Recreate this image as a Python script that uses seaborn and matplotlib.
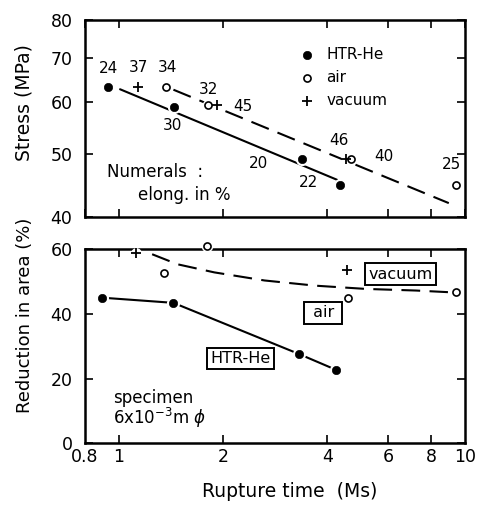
import numpy as np
import pandas as pd
import matplotlib
matplotlib.use("Agg")
import matplotlib.pyplot as plt
import seaborn as sns

# ---- data ----
# upper panel: stress vs rupture time (numbers = elongation %)
time_htr_s = [0.935, 1.446, 3.38, 4.35]
stress_htr = [63.3, 59.0, 49.0, 44.7]
elong_htr = [24, 30, 20, 22]

time_air_s = [1.37, 1.81, 4.70, 9.45]
stress_air = [63.2, 59.3, 49.0, 44.8]
elong_air = [34, 32, 40, 25]

time_vac_s = [1.14, 1.93, 4.52]
stress_vac = [63.2, 59.3, 49.0]
elong_vac = [37, 45, 46]

# hand drawn trend lines (upper panel)
trend_htr_time = [1.01, 4.27]
trend_htr_stress = [62.7, 45.6]
trend_air_time = [1.44, 8.98]
trend_air_stress = [62.6, 42.0]

# lower panel: reduction in area vs rupture time
time_htr_r = [0.895, 1.44, 3.32, 4.25]
ra_htr = [45.0, 43.4, 27.6, 22.7]
time_air_r = [1.35, 1.80, 4.60, 9.41]
ra_air = [52.5, 60.9, 45.0, 46.8]
time_vac_r = [1.12, 4.57]
ra_vac = [58.9, 53.5]

# hand drawn curve air/vacuum (lower panel)
curve_time = [1.25, 1.48, 1.89, 2.64, 3.70, 5.17, 7.22, 8.93]
curve_ra = [58.4, 55.3, 52.8, 50.3, 48.7, 47.7, 47.2, 46.7]

x_ticks = [0.8, 1, 2, 4, 6, 8, 10]
x_ticklabels = ["0.8", "1", "2", "4", "6", "8", "10"]
stress_ticks = [40, 50, 60, 70, 80]
ra_ticks = [0, 20, 40, 60]

sns.set_style("ticks")
plt.rcParams['font.family'] = ['DejaVu Sans']
for k in ("text.color", "axes.labelcolor", "xtick.color", "ytick.color"):
    plt.rcParams[k] = "black"

fig = plt.figure(figsize=(4.81, 5.09), dpi=100)
ax1 = fig.add_axes([0.1767, 0.5737, 0.790, 0.387])
ax2 = fig.add_axes([0.1767, 0.1287, 0.790, 0.382])

DASH = (0, (9, 4.5))
LW = 1.5


def halo(ax, x, y, s):
    ax.scatter(x, y, s=s, color="white", zorder=3, linewidths=0, clip_on=False)


def points(ax, series, label=False):
    # white rings so the lines stop short of the markers
    halo(ax, *series["htr"], 90)
    halo(ax, *series["air"], 70)
    halo(ax, *series["vac"], 60)
    sns.scatterplot(x=series["htr"][0], y=series["htr"][1], ax=ax, marker="o", s=36,
                    color="black", edgecolor="black", zorder=4,
                    label="HTR-He" if label else None, clip_on=False)
    sns.scatterplot(x=series["air"][0], y=series["air"][1], ax=ax, marker="o", s=26,
                    facecolor="white", edgecolor="black", linewidth=1.2, zorder=4,
                    label="air" if label else None, clip_on=False)
    sns.scatterplot(x=series["vac"][0], y=series["vac"][1], ax=ax, marker="+", s=44,
                    color="black", linewidth=1.3, zorder=4,
                    label="vacuum" if label else None, clip_on=False)


# ---------- upper panel ----------
sns.lineplot(x=trend_htr_time, y=trend_htr_stress, ax=ax1, color="black",
             lw=LW, estimator=None, sort=False, zorder=2)
sns.lineplot(x=trend_air_time, y=trend_air_stress, ax=ax1, color="black",
             lw=LW, estimator=None, sort=False, linestyle=DASH, zorder=2)
points(ax1, {"htr": (time_htr_s, stress_htr), "air": (time_air_s, stress_air),
             "vac": (time_vac_s, stress_vac)}, label=True)

offsets = {
    "htr": [(0, 18), (-2, -19), (-43, -4), (-31, 3)],
    "air": [(2, 19), (1, 16), (32, 3), (-5, 20)],
    "vac": [(0, 19), (25, -1), (-7, 19)],
}
for key, xs, ys, nums in [("htr", time_htr_s, stress_htr, elong_htr),
                          ("air", time_air_s, stress_air, elong_air),
                          ("vac", time_vac_s, stress_vac, elong_vac)]:
    for x, y, n, off in zip(xs, ys, nums, offsets[key]):
        ax1.annotate(str(n), (x, y), xytext=off, textcoords="offset pixels",
                     ha="center", va="center", fontsize=11)

ax1.set_xscale("log")
ax1.set_yscale("log")
ax1.set_xlim(0.8, 10)
ax1.set_ylim(40, 80)
ax1.set_yticks(stress_ticks)
ax1.set_yticklabels([str(v) for v in stress_ticks])
ax1.set_xticks(x_ticks)
ax1.set_xticklabels([])
ax1.minorticks_off()
ax1.set_ylabel("Stress (MPa)", fontsize=13.5)
ax1.yaxis.set_label_coords(-0.135, 0.58)

ax1.text(0.057, 0.23, "Numerals  :", transform=ax1.transAxes, fontsize=12,
         va="center")
ax1.text(0.139, 0.112, "elong. in %", transform=ax1.transAxes, fontsize=12,
         va="center")

ax1.legend(loc="upper left", bbox_to_anchor=(0.565, 0.865), frameon=False,
           fontsize=11, handlelength=1.0, handletextpad=0.75,
           labelspacing=0.55, borderpad=0, borderaxespad=0)

# ---------- lower panel ----------
sns.lineplot(x=time_htr_r, y=ra_htr, ax=ax2, color="black", lw=LW,
             estimator=None, sort=False, zorder=2)
sns.lineplot(x=curve_time, y=curve_ra, ax=ax2, color="black", lw=LW,
             estimator=None, sort=False, linestyle=DASH, zorder=2)
points(ax2, {"htr": (time_htr_r, ra_htr), "air": (time_air_r, ra_air),
             "vac": (time_vac_r, ra_vac)})
if ax2.get_legend() is not None:
    ax2.get_legend().remove()

box = dict(boxstyle="square,pad=0.2", fc="white", ec="black", lw=1.4)
ax2.text(6.52, 52.3, "vacuum", ha="center", va="center", fontsize=11.5, bbox=box)
ax2.text(3.90, 40.3, " air ", ha="center", va="center", fontsize=11.5, bbox=box)
ax2.text(2.25, 26.3, "HTR-He", ha="center", va="center", fontsize=11.5, bbox=box)
ax2.text(0.073, 0.234, "specimen", transform=ax2.transAxes, fontsize=12,
         va="center")
ax2.text(0.073, 0.13, r"6x10$^{-3}$m $\phi$", transform=ax2.transAxes,
         fontsize=12, va="center")

ax2.set_xscale("log")
ax2.set_xlim(0.8, 10)
ax2.set_ylim(0, 60)
ax2.set_xticks(x_ticks)
ax2.set_xticklabels(x_ticklabels)
ax2.minorticks_off()
ax2.set_yticks(ra_ticks)
ax2.set_ylabel("Reduction in area (%)", fontsize=13)
ax2.yaxis.set_label_coords(-0.135, 0.66)
ax2.set_xlabel("Rupture time  (Ms)", fontsize=13.5)
ax2.xaxis.set_label_coords(0.54, -0.2)

for ax in (ax1, ax2):
    for sp in ax.spines.values():
        sp.set_visible(True)
        sp.set_linewidth(1.8)
        sp.set_color("black")
    ax.tick_params(which="both", direction="in", top=True, right=True,
                   length=6, width=1.2, labelsize=12.5, color="black")
    ax.tick_params(axis="y", pad=9)

# ticks at the panel edges are hidden by the frame
for t in ax2.xaxis.get_major_ticks():
    if t.get_loc() in (0.8, 10):
        t.tick1line.set_visible(False)
        t.tick2line.set_visible(False)

fig.savefig("out.png", dpi=100)
